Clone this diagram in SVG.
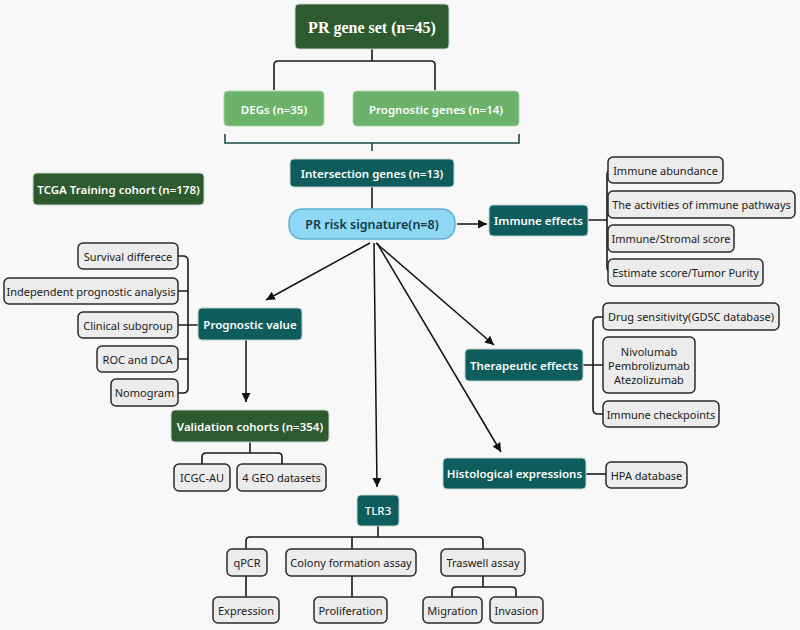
<svg xmlns="http://www.w3.org/2000/svg" width="800" height="630" viewBox="0 0 800 630">
<defs>
<marker id="arr" viewBox="0 0 10 10" refX="10" refY="5" markerWidth="9" markerHeight="9" markerUnits="userSpaceOnUse" orient="auto">
<path d="M0,0 L10,5 L0,10 z" fill="#111"/>
</marker>
<style>
.bg{fill:#f8f8f8}
.dg{fill:#2d5a2e;stroke:#c9d6c9;stroke-width:1}
.mg{fill:#6bb36a;stroke:#a9d4a8;stroke-width:1}
.tl{fill:#0e5c5b;stroke:#bcd3d3;stroke-width:1}
.lb{fill:#8fd8f5;stroke:#62b4d2;stroke-width:1.5}
.gb{fill:#ececec;stroke:#2a2a2a;stroke-width:1.5}
.wt{font-family:"Noto Sans","Open Sans",sans-serif;font-size:11.5px;font-weight:600;fill:#fff;text-anchor:middle;dominant-baseline:central}
.bt{font-family:"Noto Sans","Open Sans",sans-serif;font-size:11px;fill:#1a1a1a;text-anchor:middle;dominant-baseline:central}
.st{font-family:"Liberation Serif","Times New Roman",serif;font-size:16px;font-weight:bold;fill:#fff;text-anchor:middle;dominant-baseline:central}
.ln{fill:none;stroke:#1a1a1a;stroke-width:1.6}
.br{fill:none;stroke:#1f4a4a;stroke-width:1.6}
.ar{fill:none;stroke:#111;stroke-width:1.5;marker-end:url(#arr)}
</style>
</defs>
<rect class="bg" x="0" y="0" width="800" height="630"/>

<g id="connectors">
<path class="ln" d="M372,49 V61 M274,90 V65 Q274,61 278,61 H431 Q435,61 435,65 V90"/>
<path class="br" d="M225,134 V143 H519 V134 M372,143 V151"/>
<path class="ln" d="M372,187 V209"/>
<path class="ar" d="M457,224 H487"/>
<path class="ar" d="M370,243 L266,300"/>
<path class="ar" d="M374,243 L377,487"/>
<path class="ar" d="M376,243 L494,345"/>
<path class="ar" d="M377,243 L501,452"/>
<path class="ar" d="M246,340 V402"/>
<path class="ln" d="M588,220 H607 M612,170 Q607,170 607,175 V267 Q607,272 612,272 M607,204 H610 M607,238 H610"/>
<path class="ln" d="M178,256 H183 Q188,256 188,261 V388 Q188,393 183,393 H178 M178,291 H188 M178,325 H198 M178,359 H188"/>
<path class="ln" d="M250,442 V453 M202,464 V457 Q202,453 206,453 H278 Q282,453 282,457 V464"/>
<path class="ln" d="M583,365 H603 M603,317 H598 Q593,317 593,322 V409 Q593,414 598,414 H603"/>
<path class="ln" d="M586,474 H606"/>
<path class="ln" d="M378,526 V537 M246,549 V541 Q246,537 250,537 H479 Q483,537 483,541 V549 M352,537 V549"/>
<path class="ln" d="M246,576 V597 M352,576 V597 M483,576 V587 M452,597 V591 Q452,587 456,587 H512 Q516,587 516,591 V597"/>
</g>

<g id="pr-gene-set"><rect class="dg" x="295" y="4" width="154" height="45" rx="4"/><text class="st" x="372" y="27">PR gene set (n=45)</text></g>
<g id="degs"><rect class="mg" x="224" y="91" width="100" height="35" rx="4"/><text class="wt" x="274" y="109">DEGs (n=35)</text></g>
<g id="prognostic-genes"><rect class="mg" x="353" y="91" width="166" height="35" rx="4"/><text class="wt" x="436" y="109">Prognostic genes (n=14)</text></g>
<g id="intersection"><rect class="tl" x="290" y="159" width="164" height="28" rx="4"/><text class="wt" x="372" y="173">Intersection genes (n=13)</text></g>
<g id="tcga"><rect class="dg" x="33" y="173" width="171" height="32" rx="4"/><text class="wt" x="118.5" y="189">TCGA Training cohort (n=178)</text></g>
<g id="pr-risk"><rect class="lb" x="289" y="209" width="166" height="30" rx="13"/><text class="wt" x="372" y="224" style="fill:#123a44;font-size:12.5px">PR risk signature(n=8)</text></g>

<g id="immune-effects"><rect class="tl" x="489" y="205" width="99" height="31" rx="4"/><text class="wt" x="538.5" y="220.5">Immune effects</text></g>
<g id="immune-abundance"><rect class="gb" x="608" y="157" width="115" height="26" rx="5"/><text class="bt" x="665.5" y="170">Immune abundance</text></g>
<g id="immune-pathways"><rect class="gb" x="608" y="191" width="187" height="27" rx="5"/><text class="bt" x="701.5" y="204.5">The activities of immune pathways</text></g>
<g id="immune-stromal"><rect class="gb" x="608" y="225" width="126" height="27" rx="5"/><text class="bt" x="671" y="238.5">Immune/Stromal score</text></g>
<g id="estimate"><rect class="gb" x="608" y="259" width="155" height="27" rx="5"/><text class="bt" x="685.5" y="272.5">Estimate score/Tumor Purity</text></g>

<g id="survival"><rect class="gb" x="78" y="243" width="100" height="26" rx="5"/><text class="bt" x="128" y="256">Survival differece</text></g>
<g id="independent"><rect class="gb" x="4" y="278" width="174" height="26" rx="5"/><text class="bt" x="91" y="291">Independent prognostic analysis</text></g>
<g id="clinical"><rect class="gb" x="78" y="312" width="100" height="26" rx="5"/><text class="bt" x="128" y="325">Clinical subgroup</text></g>
<g id="roc"><rect class="gb" x="97" y="346" width="81" height="26" rx="5"/><text class="bt" x="137.5" y="359">ROC and DCA</text></g>
<g id="nomogram"><rect class="gb" x="111" y="379" width="67" height="27" rx="5"/><text class="bt" x="144.5" y="392.5">Nomogram</text></g>
<g id="prognostic-value"><rect class="tl" x="198" y="308" width="104" height="32" rx="4"/><text class="wt" x="250" y="324">Prognostic value</text></g>

<g id="validation"><rect class="dg" x="171" y="410" width="158" height="32" rx="4"/><text class="wt" x="250" y="426">Validation cohorts (n=354)</text></g>
<g id="icgc"><rect class="gb" x="174" y="464" width="56" height="27" rx="5"/><text class="bt" x="202" y="477.5">ICGC-AU</text></g>
<g id="geo"><rect class="gb" x="237" y="464" width="89" height="27" rx="5"/><text class="bt" x="281.5" y="477.5">4 GEO datasets</text></g>

<g id="therapeutic"><rect class="tl" x="465" y="349" width="118" height="32" rx="4"/><text class="wt" x="524" y="365">Therapeutic effects</text></g>
<g id="drug"><rect class="gb" x="603" y="303" width="176" height="27" rx="5"/><text class="bt" x="691" y="316.5">Drug sensitivity(GDSC database)</text></g>
<g id="antibodies"><rect class="gb" x="603" y="337" width="92" height="56" rx="5"/><text class="bt" x="649" y="351">Nivolumab</text><text class="bt" x="649" y="365">Pembrolizumab</text><text class="bt" x="649" y="379">Atezolizumab</text></g>
<g id="checkpoints"><rect class="gb" x="603" y="401" width="116" height="26" rx="5"/><text class="bt" x="661" y="414">Immune checkpoints</text></g>

<g id="histological"><rect class="tl" x="443" y="458" width="143" height="31" rx="4"/><text class="wt" x="514.5" y="473.5">Histological expressions</text></g>
<g id="hpa"><rect class="gb" x="606" y="462" width="81" height="26" rx="5"/><text class="bt" x="646.5" y="475">HPA database</text></g>

<g id="tlr3"><rect class="tl" x="357" y="495" width="42" height="31" rx="4"/><text class="wt" x="378" y="510.5" style="font-weight:500">TLR3</text></g>
<g id="qpcr"><rect class="gb" x="227" y="549" width="40" height="27" rx="5"/><text class="bt" x="247" y="562.5">qPCR</text></g>
<g id="colony"><rect class="gb" x="286" y="549" width="130" height="27" rx="5"/><text class="bt" x="351" y="562.5">Colony formation assay</text></g>
<g id="traswell"><rect class="gb" x="441" y="549" width="84" height="27" rx="5"/><text class="bt" x="483" y="562.5">Traswell assay</text></g>
<g id="expression"><rect class="gb" x="213" y="597" width="66" height="26" rx="5"/><text class="bt" x="246" y="610">Expression</text></g>
<g id="proliferation"><rect class="gb" x="314" y="597" width="73" height="26" rx="5"/><text class="bt" x="350.5" y="610">Proliferation</text></g>
<g id="migration"><rect class="gb" x="423" y="597" width="59" height="26" rx="5"/><text class="bt" x="452.5" y="610">Migration</text></g>
<g id="invasion"><rect class="gb" x="490" y="597" width="53" height="26" rx="5"/><text class="bt" x="516.5" y="610">Invasion</text></g>
</svg>
